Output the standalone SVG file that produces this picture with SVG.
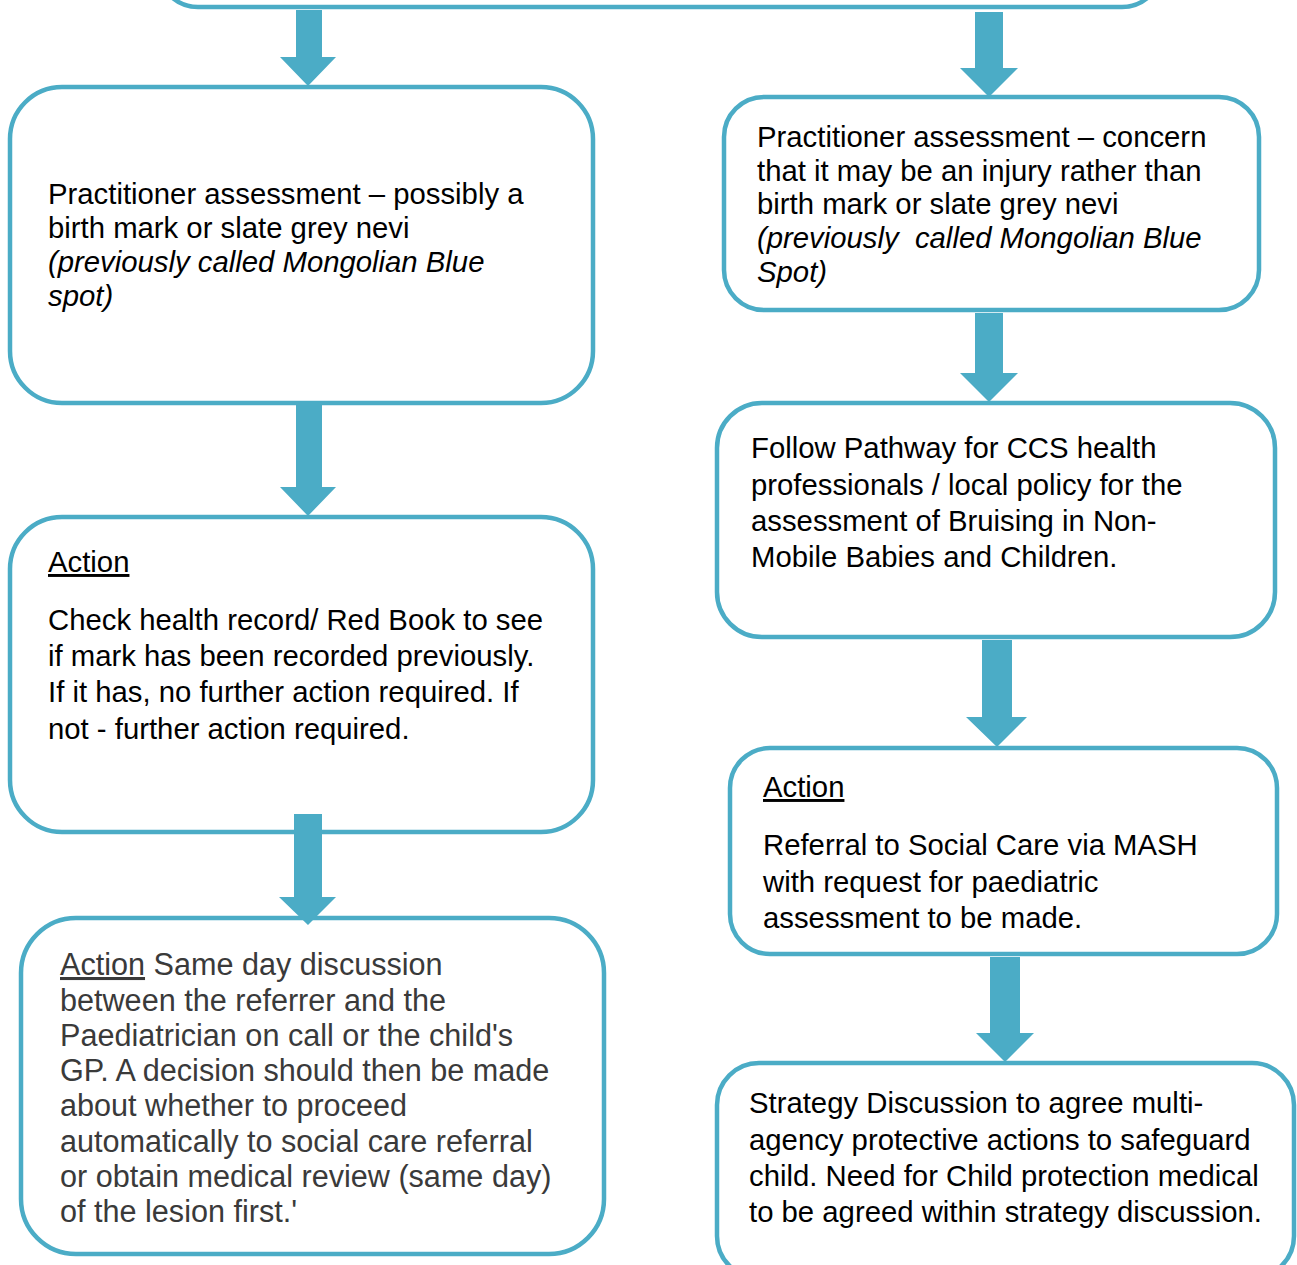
<svg xmlns="http://www.w3.org/2000/svg" width="1297" height="1265" viewBox="0 0 1297 1265">
<style>
.box{fill:#fff;stroke:#4BACC6;stroke-width:4.5}
.arr{fill:#4BACC6}
text{font-family:"Liberation Sans",Arial,sans-serif;font-size:29.3px;fill:#000}
.it{font-style:italic}
.gr{fill:#3a3a3a;font-size:30.6px}
.u{text-decoration:underline}
</style>
<rect width="1297" height="1265" fill="#fff"/>
<g id="top">
<rect class="box" x="158" y="-200" width="1004" height="207" rx="40"/>
</g>
<g id="L1">
<rect class="box" x="10" y="87" width="583" height="316" rx="52"/>
<text x="48" y="204">Practitioner assessment – possibly a</text>
<text x="48" y="238">birth mark or slate grey nevi</text>
<text x="48" y="272" class="it">(previously called Mongolian Blue</text>
<text x="48" y="306" class="it">spot)</text>
</g>
<g id="R1">
<rect class="box" x="724" y="97" width="535" height="213" rx="40"/>
<text x="757" y="147">Practitioner assessment – concern</text>
<text x="757" y="181">that it may be an injury rather than</text>
<text x="757" y="214">birth mark or slate grey nevi</text>
<text x="757" y="248" class="it" xml:space="preserve">(previously  called Mongolian Blue</text>
<text x="757" y="282" class="it">Spot)</text>
</g>
<g id="L2">
<rect class="box" x="10" y="517" width="583" height="315" rx="52"/>
<text x="48" y="572" class="u">Action</text>
<text x="48" y="630">Check health record/ Red Book to see</text>
<text x="48" y="666">if mark has been recorded previously.</text>
<text x="48" y="702">If it has, no further action required. If</text>
<text x="48" y="739">not - further action required.</text>
</g>
<g id="R2">
<rect class="box" x="717" y="403" width="558" height="234" rx="45"/>
<text x="751" y="458">Follow Pathway for CCS health</text>
<text x="751" y="495">professionals / local policy for the</text>
<text x="751" y="531">assessment of Bruising in Non-</text>
<text x="751" y="567">Mobile Babies and Children.</text>
</g>
<g id="L3">
<rect class="box" x="21" y="918" width="583" height="336" rx="55"/>
<text x="60" y="975" class="gr"><tspan class="u">Action</tspan> Same day discussion</text>
<text x="60" y="1011" class="gr">between the referrer and the</text>
<text x="60" y="1046" class="gr">Paediatrician on call or the child's</text>
<text x="60" y="1081" class="gr">GP. A decision should then be made</text>
<text x="60" y="1116" class="gr">about whether to proceed</text>
<text x="60" y="1152" class="gr">automatically to social care referral</text>
<text x="60" y="1187" class="gr">or obtain medical review (same day)</text>
<text x="60" y="1222" class="gr">of the lesion first.'</text>
</g>
<g id="R3">
<rect class="box" x="730" y="748" width="547" height="206" rx="40"/>
<text x="763" y="797" class="u">Action</text>
<text x="763" y="855">Referral to Social Care via MASH</text>
<text x="763" y="892">with request for paediatric</text>
<text x="763" y="928">assessment to be made.</text>
</g>
<g id="R4">
<rect class="box" x="717" y="1063" width="577" height="215" rx="42"/>
<text x="749" y="1113">Strategy Discussion to agree multi-</text>
<text x="749" y="1150">agency protective actions to safeguard</text>
<text x="749" y="1186">child. Need for Child protection medical</text>
<text x="749" y="1222">to be agreed within strategy discussion.</text>
</g>
<g id="connectors">
<polygon class="arr" points="296,10 322,10 322,57 336,57 308,86 280,57 296,57"/>
<polygon class="arr" points="975,12 1003,12 1003,68 1018,68 989,97 960,68 975,68"/>
<polygon class="arr" points="296,405 322,405 322,487 336,487 308,516 280,487 296,487"/>
<polygon class="arr" points="975,313 1003,313 1003,373 1018,373 989,402 960,373 975,373"/>
<polygon class="arr" points="294,814 322,814 322,897 336,897 308,925 279,897 294,897"/>
<polygon class="arr" points="982,640 1012,640 1012,717 1027,717 997,747 966,717 982,717"/>
<polygon class="arr" points="990,957 1020,957 1020,1033 1034,1033 1005,1062 976,1033 990,1033"/>
</g>
</svg>
